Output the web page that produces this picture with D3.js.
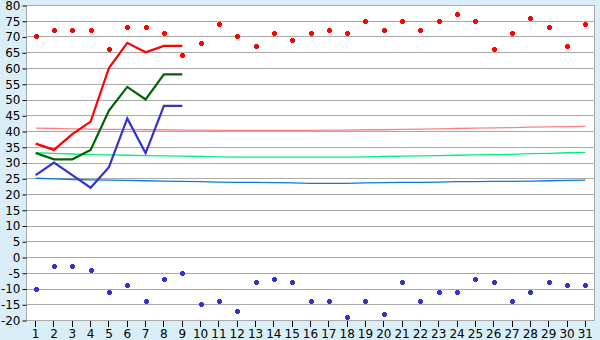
<!DOCTYPE html>
<html>
<head>
<meta charset="utf-8">
<script src="https://cdn.jsdelivr.net/npm/d3@7"></script>
<style>
  html, body { margin: 0; padding: 0; background: #d9eef6; }
  svg { display: block; font-family: "DejaVu Sans", Verdana, sans-serif; font-size: 12px; }
</style>
</head>
<body>
<svg id="chart"></svg>
<script>
// days of the month
const days = d3.range(1, 32);
const yTicks = d3.range(-20, 81, 5);

// observed (days 1-9)
const maxTemp  = [36, 34, 39, 43, 60, 68, 65, 67, 67];
const meanTemp = [33, 31, 31, 34, 46.5, 54, 50, 58, 58];
const minTemp  = [26, 30, 26, 22, 28.5, 44, 33, 48, 48];

// normals (thin lines)
const normalMax  = [40.9, 40.8, 40.7, 40.6, 40.5, 40.5, 40.4, 40.4, 40.3, 40.3, 40.2, 40.2, 40.2, 40.2, 40.2, 40.2, 40.3, 40.3, 40.4, 40.4, 40.5, 40.6, 40.7, 40.8, 40.9, 41.0, 41.1, 41.2, 41.3, 41.4, 41.5];
const normalMean = [33.1, 32.9, 32.7, 32.5, 32.4, 32.3, 32.2, 32.1, 32.0, 31.9, 31.8, 31.7, 31.7, 31.7, 31.7, 31.7, 31.7, 31.7, 31.8, 31.9, 32.0, 32.1, 32.2, 32.3, 32.4, 32.5, 32.6, 32.8, 32.9, 33.1, 33.2];
const normalMin  = [25.0, 24.8, 24.6, 24.5, 24.4, 24.3, 24.2, 24.1, 24.0, 23.9, 23.8, 23.7, 23.7, 23.6, 23.5, 23.4, 23.4, 23.4, 23.5, 23.6, 23.7, 23.7, 23.8, 23.9, 23.9, 24.0, 24.0, 24.1, 24.2, 24.3, 24.4];

// records (markers)
const recordHigh = [70, 72, 72, 72, 66, 73, 73, 71, 64, 68, 74, 70, 67, 71, 69, 71, 72, 71, 75, 72, 75, 72, 75, 77, 75, 66, 71, 76, 73, 67, 74];
const recordLow  = [-10, -3, -3, -4, -11, -9, -14, -7, -5, -15, -14, -17, -8, -7, -8, -14, -14, -19, -14, -18, -8, -14, -11, -11, -7, -8, -14, -11, -8, -9, -9];

const width = 600, height = 340;
const plotLeft = 26, plotRight = 595, plotTop = 5, plotBottom = 320;

const svg = d3.select('#chart').attr('width', width).attr('height', height);

const x = d3.scaleBand().domain(days).range([plotLeft + 0.5, plotRight - 0.5]);
const cx = d => x(d) + x.bandwidth() / 2;
const y = d3.scaleLinear().domain([-20, 80]).range([plotBottom, plotTop]);

svg.append('rect')
  .attr('x', plotLeft).attr('y', plotTop)
  .attr('width', plotRight - plotLeft).attr('height', plotBottom - plotTop)
  .attr('fill', '#ffffff');

// gridlines
svg.append('g')
  .selectAll('line')
  .data(yTicks)
  .join('line')
  .attr('x1', plotLeft).attr('x2', plotRight)
  .attr('y1', d => Math.round(y(d)) + 0.5).attr('y2', d => Math.round(y(d)) + 0.5)
  .attr('stroke', '#aaaaaa')
  .attr('shape-rendering', 'crispEdges');

// frame
svg.append('rect')
  .attr('x', plotLeft + 0.5).attr('y', plotTop + 0.5)
  .attr('width', plotRight - plotLeft - 1).attr('height', plotBottom - plotTop)
  .attr('fill', 'none')
  .attr('stroke', '#aaaaaa')
  .attr('shape-rendering', 'crispEdges');

// axes
const font = '"DejaVu Sans", Verdana, sans-serif';
const yAxis = d3.axisLeft(y).tickValues(yTicks).tickFormat(d => String(d)).tickSize(4).tickPadding(2);
svg.append('g')
  .attr('transform', `translate(${plotLeft + 0.5},0.5)`)
  .call(yAxis)
  .call(g => g.select('.domain').remove())
  .call(g => g.selectAll('line').attr('stroke', '#000'))
  .call(g => g.selectAll('text').attr('fill', '#000').attr('font-size', 12).attr('font-family', font));

const xAxis = d3.axisBottom(x).tickSize(6).tickPadding(3);
svg.append('g')
  .attr('transform', `translate(0,${plotBottom + 0.5})`)
  .call(xAxis)
  .call(g => g.select('.domain').remove())
  .call(g => g.selectAll('line').attr('stroke', '#000').attr('shape-rendering', 'crispEdges'))
  .call(g => g.selectAll('text').attr('fill', '#000').attr('font-size', 12).attr('font-family', font));

const line = d3.line()
  .x((d, i) => cx(days[i]))
  .y(d => y(d));

// normals
[[normalMax, '#ff8080'], [normalMean, '#00f07a'], [normalMin, '#0a78e6']].forEach(([vals, col]) => {
  svg.append('path')
    .datum(vals)
    .attr('d', line)
    .attr('fill', 'none')
    .attr('stroke', col)
    .attr('stroke-width', 1.3);
});

// observed
[[minTemp, '#3333cc'], [meanTemp, '#006400'], [maxTemp, '#ff0000']].forEach(([vals, col]) => {
  svg.append('path')
    .datum(vals)
    .attr('d', line)
    .attr('fill', 'none')
    .attr('stroke', col)
    .attr('stroke-width', 2.2);
});

// record markers
const marker = 'M-1.5,-2.5h3v1h1v3h-1v1h-3v-1h-1v-3h1z';
[[recordHigh, '#ff0000'], [recordLow, '#3333cc']].forEach(([vals, col]) => {
  svg.append('g')
    .selectAll('path')
    .data(vals)
    .join('path')
    .attr('transform', (d, i) => `translate(${Math.round(cx(days[i])) + 0.5},${Math.round(y(d)) + 0.5})`)
    .attr('d', marker)
    .attr('fill', col)
    .attr('shape-rendering', 'crispEdges');
});
</script>
</body>
</html>
